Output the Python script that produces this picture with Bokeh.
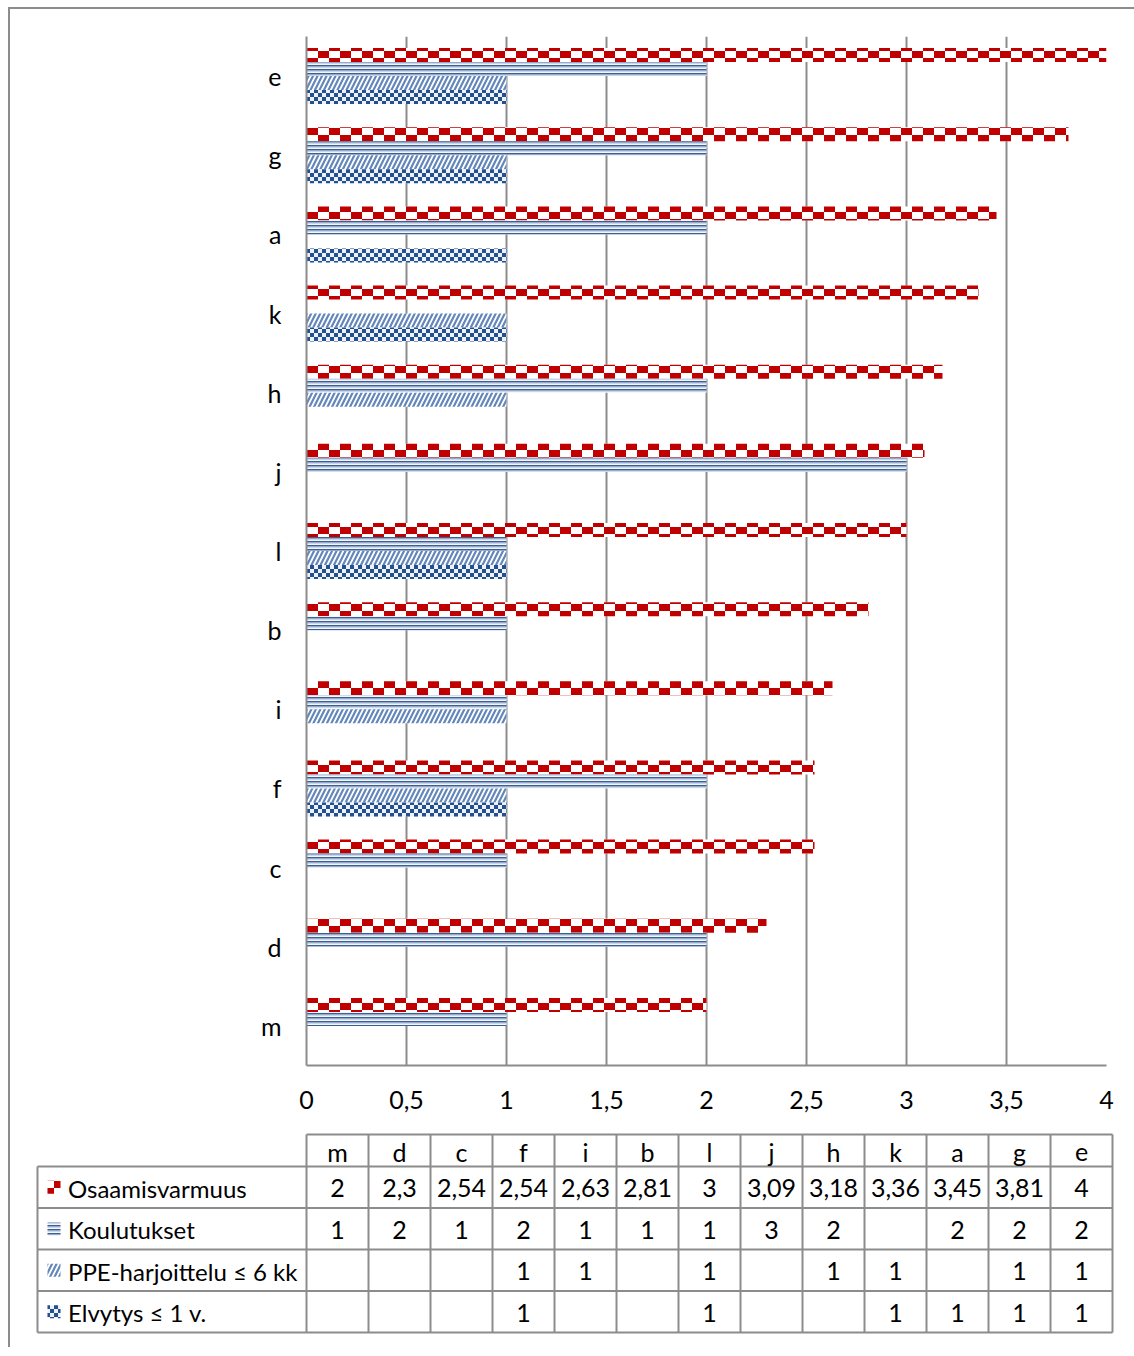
from bokeh.plotting import figure
from bokeh.models import (ColumnDataSource, Range1d, FactorRange, FixedTicker,
                          CanvasTexture)
from bokeh.transform import dodge
from bokeh.core.properties import value
from bokeh.layouts import column
from bokeh.embed import file_html
from bokeh.resources import INLINE

# ---------------- data ----------------
categories = ["m", "d", "c", "f", "i", "b", "l", "j", "h", "k", "a", "g", "e"]
series_names = ["Osaamisvarmuus", "Koulutukset", "PPE-harjoittelu \u2264 6 kk", "Elvytys \u2264 1 v."]
osaamisvarmuus = [2, 2.3, 2.54, 2.54, 2.63, 2.81, 3, 3.09, 3.18, 3.36, 3.45, 3.81, 4]
koulutukset = [1, 2, 1, 2, 1, 1, 1, 3, 2, None, 2, 2, 2]
ppe_harjoittelu = [None, None, None, 1, 1, None, 1, None, 1, 1, None, 1, 1]
elvytys = [None, None, None, 1, None, None, 1, None, None, 1, 1, 1, 1]
x_ticks = [0, 0.5, 1, 1.5, 2, 2.5, 3, 3.5, 4]

FONT = "Lato"
FS = "25px"
GRID = "#8c8c8c"

# ---------------- textures / styles ----------------
red_check = CanvasTexture(code="""
ctx.canvas.width = 22; ctx.canvas.height = 14;
ctx.fillStyle = '#c00000';
ctx.fillRect(0, 0, 11, 7);
ctx.fillRect(11, 7, 11, 7);
""")
blue_check = CanvasTexture(code="""
ctx.canvas.width = 8; ctx.canvas.height = 8;
ctx.fillStyle = '#23508e';
ctx.fillRect(0, 0, 4, 4);
ctx.fillRect(4, 4, 4, 4);
""")
blue_lines = CanvasTexture(code="""
ctx.canvas.width = 4; ctx.canvas.height = 4;
ctx.fillStyle = '#c9d6ea';
ctx.fillRect(0, 2, 4, 1);
ctx.fillStyle = '#3a5f95';
ctx.fillRect(0, 0, 4, 1.5);
""")

styles = [
    dict(fill_color="white", hatch_pattern=value("redcheck"), hatch_extra={"redcheck": red_check}),
    dict(fill_color="#f2f5fa", hatch_pattern=value("bluelines"), hatch_extra={"bluelines": blue_lines}),
    dict(fill_color="white", hatch_pattern="/", hatch_color="#6386bb", hatch_scale=9, hatch_weight=2.2),
    dict(fill_color="#eef2f8", hatch_pattern=value("bluecheck"), hatch_extra={"bluecheck": blue_check}),
]

series_values = [osaamisvarmuus, koulutukset, ppe_harjoittelu, elvytys]

# ---------------- chart ----------------
n = len(categories)
p = figure(width=1124, height=1116, output_backend="svg", toolbar_location=None,
           y_range=FactorRange(factors=categories, range_padding=0),
           x_range=Range1d(0, 4),
           min_border_left=296, min_border_right=28, min_border_top=27, min_border_bottom=60)
p.outline_line_color = None
p.background_fill_color = "white"
p.border_fill_color = "white"
p.frame_align = False

bar_h = 14.0 / (1029.0 / n)
offsets = [1.5 * bar_h, 0.5 * bar_h, -0.5 * bar_h, -1.5 * bar_h]

for vals, off, st in zip(series_values, offsets, styles):
    ys = [c for c, v in zip(categories, vals) if v is not None]
    xs = [v for v in vals if v is not None]
    src = ColumnDataSource(dict(y=ys, right=xs))
    p.hbar(y=dodge("y", off, range=p.y_range), left=0, right="right", height=bar_h,
           source=src, line_color=None, **st)

p.xgrid.ticker = FixedTicker(ticks=x_ticks)
p.xgrid.grid_line_color = GRID
p.xgrid.grid_line_width = 2
p.ygrid.grid_line_color = None

p.xaxis.ticker = FixedTicker(ticks=x_ticks)
p.xaxis.major_label_overrides = {t: ("%g" % t).replace(".", ",") for t in x_ticks}
p.xaxis.axis_line_color = GRID
p.xaxis.axis_line_width = 2
p.xaxis.major_tick_line_color = None
p.xaxis.minor_tick_line_color = None
p.xaxis.major_label_standoff = 19
p.xaxis.major_label_text_font = FONT
p.xaxis.major_label_text_font_size = FS
p.xaxis.major_label_text_color = "black"

p.yaxis.axis_line_color = GRID
p.yaxis.axis_line_width = 2
p.yaxis.major_tick_line_color = None
p.yaxis.minor_tick_line_color = None
p.yaxis.major_label_standoff = 19
p.yaxis.major_label_text_font = FONT
p.yaxis.major_label_text_font_size = FS
p.yaxis.major_label_text_color = "black"

# ---------------- data table ----------------
TW, TH = 1124, 222
t = figure(width=TW, height=TH, output_backend="svg", toolbar_location=None,
           x_range=Range1d(0, TW), y_range=Range1d(TH, 0),
           min_border_left=0, min_border_right=0, min_border_top=0, min_border_bottom=0)
t.axis.visible = False
t.grid.visible = False
t.outline_line_color = None
t.frame_align = False

legend_left = 27.0
data_left = 296.0
col_w = 62.0
header_top = 9.0
header_h = 32.0
row_h = 41.5
n_rows = len(series_names)
row_edges = [header_top + header_h + i * row_h for i in range(n_rows + 1)]
col_edges = [data_left + i * col_w for i in range(n + 1)]
table_right = col_edges[-1]
table_bottom = row_edges[-1]

# horizontal lines
hx0 = [data_left] + [legend_left] * (n_rows + 1)
hx1 = [table_right] * (n_rows + 2)
hy = [header_top] + row_edges
t.segment(x0=hx0, y0=hy, x1=hx1, y1=hy, line_color=GRID, line_width=2)
# vertical lines
vx = [legend_left] + col_edges
vy0 = [row_edges[0]] + [header_top] * (n + 1)
vy1 = [table_bottom] * (n + 2)
t.segment(x0=vx, y0=vy0, x1=vx, y1=vy1, line_color=GRID, line_width=2)

# header labels
col_centers = [data_left + (i + 0.5) * col_w for i in range(n)]
t.text(x=col_centers, y=[header_top + header_h / 2 + 1] * n, text=categories,
       text_align="center", text_baseline="middle", text_font=value(FONT),
       text_font_size=FS, text_color="black")

# values
def fmt(v):
    if v is None:
        return ""
    return ("%g" % v).replace(".", ",")

for r, vals in enumerate(series_values):
    yc = (row_edges[r] + row_edges[r + 1]) / 2 + 1
    t.text(x=col_centers, y=[yc] * n, text=[fmt(v) for v in vals],
           text_align="center", text_baseline="middle", text_font=value(FONT),
           text_font_size=FS, text_color="black")

# legend swatches + names
row_centers = [(row_edges[r] + row_edges[r + 1]) / 2 for r in range(n_rows)]
for r, st in enumerate(styles):
    t.rect(x=[legend_left + 16.5], y=[row_centers[r]], width=13, height=13,
           line_color=None, **st)
t.text(x=[legend_left + 30.5] * n_rows, y=[c + 1 for c in row_centers], text=series_names,
       text_align="left", text_baseline="middle", text_font=value(FONT),
       text_font_size="24px", text_color="black")

layout = column(p, t, spacing=0,
                styles={"margin-left": "8px", "margin-top": "7px",
                        "border-left": "2px solid #8c8c8c", "border-top": "2px solid #8c8c8c"})

open("out.html", "w").write(file_html(layout, INLINE))
